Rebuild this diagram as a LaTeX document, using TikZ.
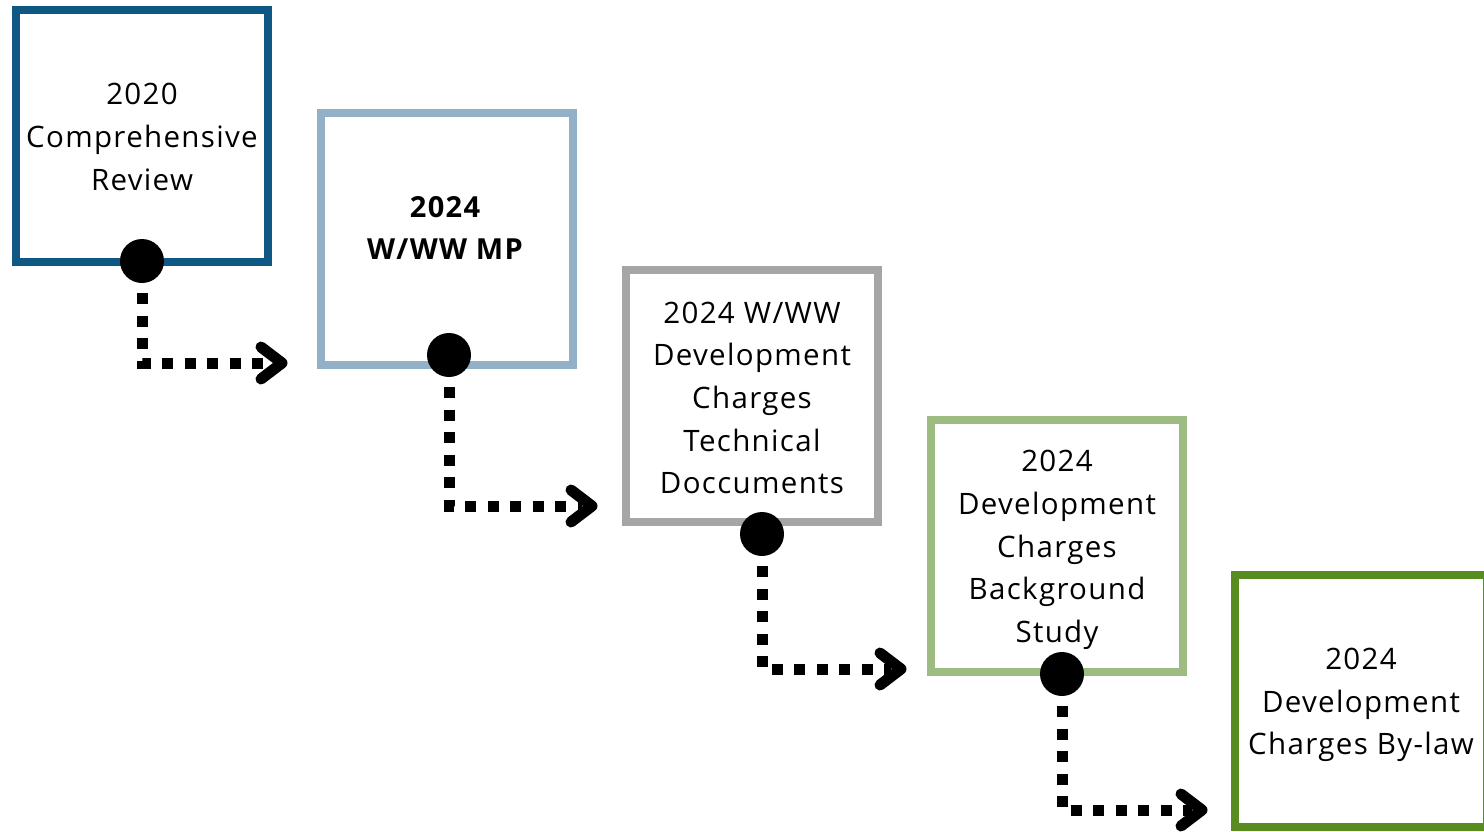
\documentclass[tikz,border=0pt]{standalone}
\usepackage{fontspec}
\newfontfamily\boxfont[LetterSpace=4.5]{Open Sans}
\definecolor{cA}{RGB}{16,88,132}
\definecolor{cB}{RGB}{146,176,198}
\definecolor{cC}{RGB}{166,166,166}
\definecolor{cD}{RGB}{157,188,130}
\definecolor{cE}{RGB}{88,140,32}
\begin{document}
\begin{tikzpicture}[x=1pt,y=-1pt,
  stagebox/.style={draw=#1,line width=8pt,rectangle,minimum width=252pt,minimum height=252pt,inner sep=0pt,fill=white},
  stagetext/.style={align=center,font=\boxfont\fontsize{29.5}{42.7}\selectfont,text=black,inner sep=0pt},
  dotnode/.style={circle,fill=black,minimum size=44pt,inner sep=0pt},
  link/.style={line width=11pt,dash pattern=on 11pt off 11.5pt,dash phase=12.5pt},
  chev/.style={line width=11pt,line cap=round,line join=round}]
\useasboundingbox (0,0) rectangle (1484,831);
\fill[white] (0,0) rectangle (1484,831);
% boxes
\node[stagebox=cA] (b1) at (142,136) {};
\node[stagebox=cB] (b2) at (447,239) {};
\node[stagebox=cC] (b3) at (752,396) {};
\node[stagebox=cD] (b4) at (1057,546) {};
\node[stagebox=cE] (b5) at (1361,701) {};
% texts
\node[stagetext] (l1) at (142,137) {2020\\Comprehensive\\Review};
\node[stagetext,font=\boxfont\bfseries\fontsize{29}{42.7}\selectfont] (l2) at (445,228) {2024\\W/WW MP};
\node[stagetext] (l3) at (752,398) {2024 W/WW\\Development\\Charges\\Technical\\Doccuments};
\node[stagetext] (l4) at (1057,550) {2024\\Development\\Charges\\Background\\Study};
\node[stagetext] (l5) at (1361,705) {2024\\Development\\Charges By-law};
% dots
\node[dotnode] (d1) at (142,261) {};
\node[dotnode] (d2) at (449,355) {};
\node[dotnode] (d3) at (762,534) {};
\node[dotnode] (d4) at (1062,674) {};
% arrow tips
\coordinate (t1) at (282,363);
\coordinate (t2) at (592,506);
\coordinate (t3) at (901,669);
\coordinate (t4) at (1202,810);
% connectors
\foreach \i in {1,2,3,4}{
  \draw[link] (d\i) |- ([xshift=-10pt]t\i);
  \draw[chev] ([shift={(-21,-16)}]t\i) -- (t\i) -- ([shift={(-21,16)}]t\i);
}
\end{tikzpicture}
\end{document}
